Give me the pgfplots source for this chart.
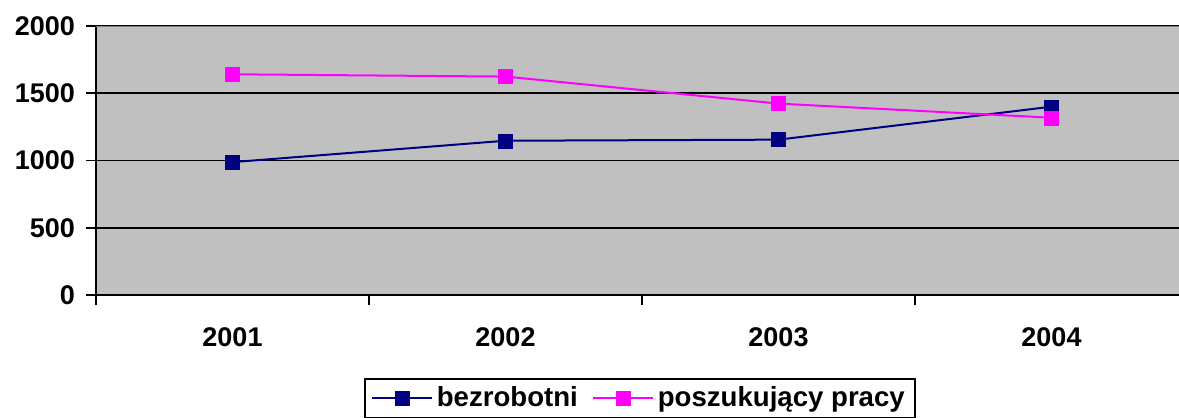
\documentclass[border=0pt]{standalone}
\usepackage{pgfplots}
\pgfplotsset{compat=1.18}
\usepackage{fontspec}
\setmainfont{Liberation Sans}
\definecolor{bg}{HTML}{C0C0C0}
\definecolor{navy}{HTML}{000080}
\definecolor{pink}{HTML}{FF00FF}
\begin{document}
\begin{tikzpicture}
\useasboundingbox (-48pt,-61.5pt) rectangle (541.5pt,147.5pt);
\begin{axis}[
    at={(0,0)}, anchor=south west,
    scale only axis, width=546pt, height=134.5pt,
    xmin=0.5, xmax=4.5, ymin=0, ymax=2000,
    axis x line*=bottom, axis y line*=left,
    axis line style={black, line width=0.9pt, -},
    axis background/.style={fill=bg},
    xtick={1,2,3,4}, xticklabels={2001,2002,2003,2004},
    major x tick style={draw=none},
    minor xtick={0.5,1.5,2.5,3.5},
    minor x tick style={black, line width=0.9pt},
    ytick={0,500,1000,1500,2000},
    ytick style={black, line width=0.9pt},
    tick align=outside, major tick length=5pt, minor tick length=5pt,
    ymajorgrids, major grid style={black, line width=0.9pt},
    /pgf/number format/assume math mode=true,
    /pgf/number format/set thousands separator={},
    tick label style={font=\bfseries\fontsize{13.5}{16}\selectfont},
    xticklabel style={yshift=-8pt},
    yticklabel style={xshift=-2pt},
    legend columns=2,
    legend style={at={(0.498,-0.3086)}, anchor=north, draw=black, line width=0.9pt,
        font=\bfseries\fontsize{13.8}{16}\selectfont,
        /tikz/every even column/.append style={column sep=5pt}},
    legend image code/.code={\draw[mark repeat=2, mark phase=2] plot coordinates {(0pt,0pt) (15pt,0pt) (30pt,0pt)};},
]
\addplot[navy, line width=1pt, mark=square*, mark size=3.5pt, mark options={line width=0.2pt}]
    coordinates {(1,988) (2,1147) (3,1155) (4,1400)};
\addplot[pink, line width=1pt, mark=square*, mark size=3.5pt, mark options={line width=0.2pt}]
    coordinates {(1,1641) (2,1624) (3,1423) (4,1318)};
\legend{bezrobotni, poszukujący pracy}
\draw[gray, line width=0.9pt] (rel axis cs:0,1) -- (rel axis cs:1,1);
\end{axis}
\end{tikzpicture}
\end{document}
